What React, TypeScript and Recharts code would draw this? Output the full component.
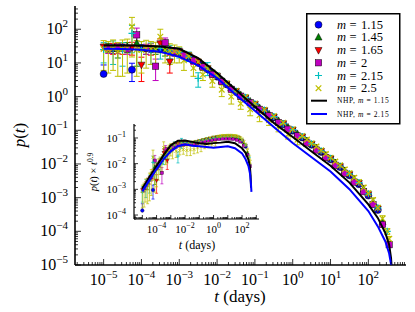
import React from "react";
import { ComposedChart, Scatter, ErrorBar, XAxis, YAxis, Legend } from "recharts";

// time bins (days); the second grid sits half a bin between the first
const tA = [1e-5, 1.78e-5, 3.16e-5, 5.62e-5, 1e-4, 1.78e-4, 3.16e-4, 5.62e-4, 1e-3, 1.78e-3, 3.16e-3, 5.62e-3, 0.01, 0.0178, 0.0316, 0.0562, 0.1, 0.178, 0.316, 0.562, 1, 1.78, 3.16, 5.62, 10, 17.8, 31.6, 56.2, 100, 178, 316];
const tB = [1.33e-5, 2.37e-5, 4.22e-5, 7.5e-5, 1.33e-4, 2.37e-4, 4.22e-4, 7.5e-4, 1.33e-3, 2.37e-3, 4.22e-3, 7.5e-3, 0.0133, 0.0237, 0.0422, 0.075, 0.133, 0.237, 0.422, 0.75, 1.33, 2.37, 4.22, 7.5, 13.3, 23.7, 42.2, 75, 133, 237, 355];
const tY = [...tA, ...tB].sort((a, b) => a - b);

const mLabels = ["1.15", "1.45", "1.65", "2", "2.15", "2.5"];
const nhpLabels = ["1.15", "2.15"];

// p(t) per series, and its error (number = symmetric, pair = [down, up])
const m115 = [4.7, 27, 29, 6.3, 28, 26, 25.5, 24, 21, 15.5, 10, 6.4, 3.9, 2.3, 1.38, 0.89, 0.57, 0.37, 0.24, 0.15, 0.097, 0.061, 0.037, 0.0228, 0.0137, 0.0081, 0.0046, 0.0025, 0.00115, 0.00043, null];
const m115Err: (number | [number, number])[] = [[0, 4], 8, 6, 3.5, 5, 5, 4, 3, 2, 1.2, 0.6, 0.3, 0.15];
const m145 = [29, 26, 30, 38, 26, 25, 24, 22, 18, 12.5, 8.2, 5.1, 3.0, 1.8, 1.12, 0.72, 0.46, 0.3, 0.19, 0.122, 0.078, 0.048, 0.029, 0.0178, 0.0106, 0.0062, 0.0034, 0.00175, 0.00072, 0.00019, null];
const m145Err = [9, 12, 10, 30, 8, 7, 8, 6, 4, 3, 2, 1, 0.5, 0.2];
const m165 = [30, 28, 27, 29, 8.8, 27, 38, 11, 22, 16.5, 10.8, 6.9, 4.1, 2.4, 1.45, 0.94, 0.6, 0.39, 0.25, 0.16, 0.103, 0.065, 0.039, 0.024, 0.0145, 0.0085, 0.0049, 0.0027, 0.00125, 0.00047, null];
const m165Err = [6, 10, 9, 12, 6, 10, 14, 6, 5, 4, 2, 1, 0.5, 0.2];
const m2 = [27, 29, 26, 68, 27, 8, 40, 22, 17, 12, 7.6, 4.6, 2.8, 1.65, 1.03, 0.66, 0.42, 0.27, 0.17, 0.108, 0.068, 0.042, 0.026, 0.0155, 0.0092, 0.0053, 0.0029, 0.0015, 0.00062, 0.00016, 0.00004];
const m2Err = [8, 10, 8, 40, 9, 5, 15, 6, 4, 3, 1.5, 0.8, 0.3];
const m215 = [25, 27, 24, 75, 26, 24, 27, 23, 21, 16, 3.5, 7.2, 4.2, 2.45, 1.47, 0.95, 0.61, 0.4, 0.255, 0.16, 0.104, 0.065, 0.04, 0.0245, 0.0148, 0.0087, 0.0051, 0.0028, 0.0013, 0.0005, 0.0001];
const m215Err = [15, 18, 16, 55, 17, 15, 14, 10, 7, 5, 1.6, 3, 0.8, 0.3, 0.1];
const m25 = [26, 24, 27, 22, 26, 28, 120, 25, 24, 27, 26, 25, 60, 24, 23, 22, 20, 12, 16, 7, 10.8, 4.5, 6.9, 2.9, 4.2, 1.6, 2.5, 1.0, 1.5, 0.62, 0.97, 0.42, 0.63, 0.28, 0.41, 0.2, 0.265, 0.13, 0.168, 0.075, 0.108, 0.052, 0.068, 0.053, 0.041, 0.033, 0.0255, 0.0198, 0.0154, 0.0118, 0.0091, 0.0069, 0.0053, 0.0039, 0.0029, 0.002, 0.00135, 0.00085, 0.0005, 0.00024, 0.0001, 0.00006];
const m25Err = [20, 19, 21, 18, 22, 23, 105, 21, 19, 20, 17, 16, 40, 14, 14, 12, 10, 6, 4, 3, 2, 1.5, 1, 1.0, 0.6, 0.6, 0.3, 0.4, 0.2, 0.2, 0.1, 0.15, 0.06, 0.1, 0.04, 0.06, 0.025, 0.04, 0.015, 0.02, 0.01, 0.015, 0.006, 0.006, 0.005, 0.004, 0.003, 0.0025, 0.002, 0.0016, 0.0013, 0.001, 0.0008, 0.0006, 0.00045, 0.00032, 0.00022, 0.00014, 0.00009, 0.00005, 0.00002, 0.00001];

// NHP model curves
const tNhp115 = [1e-5, 3.16e-5, 1e-4, 3.16e-4, 1e-3, 3.16e-3, 0.01, 0.0316, 0.1, 0.316, 1, 3.16, 10, 31.6, 100, 178, 282, 355, 398, 427];
const nhp115 = [33, 33, 32.4, 30.9, 26.3, 14, 5.0, 1.58, 0.5, 0.166, 0.063, 0.0234, 0.0089, 0.0028, 0.00063, 0.00025, 0.000089, 0.00004, 0.000016, 0.000005];
const tNhp215 = [1e-5, 3.16e-5, 1e-4, 3.16e-4, 1e-3, 3.16e-3, 0.01, 0.0316, 0.1, 0.316, 1, 3.16, 10, 31.6, 100, 178, 282, 355, 417, 457];
const nhp215 = [26.3, 25.7, 24.5, 21.4, 15.1, 8.5, 3.55, 1.12, 0.38, 0.126, 0.042, 0.0158, 0.006, 0.00178, 0.0004, 0.00014, 0.00005, 0.000022, 0.0000079, 0.0000032];

// axis labels (decade exponents)
const mainXLabels = [-5, -4, -3, -2, -1, 0, 1, 2];
const mainYLabels = [-5, -4, -3, -2, -1, 0, 1, 2];
const insetXLabels = [-4, -2, 0, 2];
const insetYLabels = [-4, -3, -2, -1];

const FONT = "'Liberation Serif', 'DejaVu Serif', serif";

type Err = number | [number, number];
type Pt = { t: number; p: number; e: Err };

function points(ts: number[], ps: (number | null)[], es: Err[]): Pt[] {
  const out: Pt[] = [];
  ts.forEach((t, i) => {
    const p = ps[i];
    if (p != null) out.push({ t, p, e: es[i] ?? 0 });
  });
  return out;
}

// inset shows p(t) * t^0.9
function inset(pts: Pt[]): Pt[] {
  return pts.map((d) => {
    const f = Math.pow(d.t, 0.9);
    const e: Err = Array.isArray(d.e) ? [d.e[0] * f, d.e[1] * f] : d.e * f;
    return { t: d.t, p: d.p * f, e };
  });
}

const SERIES = [
  { kind: "o", color: "#0000ff", data: points(tA, m115, m115Err) },
  { kind: "^", color: "#008000", data: points(tB, m145, m145Err) },
  { kind: "v", color: "#ff0000", data: points(tA, m165, m165Err) },
  { kind: "s", color: "#bf00bf", data: points(tB, m2, m2Err) },
  { kind: "+", color: "#00bfbf", data: points(tA, m215, m215Err) },
  { kind: "x", color: "#bfbf00", data: points(tY, m25, m25Err) },
];
const LINES = [
  { color: "#000000", data: points(tNhp115, nhp115, []) },
  { color: "#0000ff", data: points(tNhp215, nhp215, []) },
];

function Marker({ kind, color, cx, cy, s }: { kind: string; color: string; cx: number; cy: number; s: number }) {
  const h = s / 2;
  const ew = s > 5 ? 0.5 : 0.3;
  switch (kind) {
    case "o":
      return <circle cx={cx} cy={cy} r={h} fill={color} stroke="#000" strokeWidth={ew} />;
    case "^":
      return <polygon points={`${cx},${cy - h * 1.15} ${cx - h},${cy + h * 0.75} ${cx + h},${cy + h * 0.75}`} fill={color} stroke="#000" strokeWidth={ew} />;
    case "v":
      return <polygon points={`${cx},${cy + h * 1.15} ${cx - h},${cy - h * 0.75} ${cx + h},${cy - h * 0.75}`} fill={color} stroke="#000" strokeWidth={ew} />;
    case "s":
      return <rect x={cx - h * 0.9} y={cy - h * 0.9} width={h * 1.8} height={h * 1.8} fill={color} stroke="#000" strokeWidth={ew} />;
    case "+":
      return <path d={`M${cx - h},${cy}H${cx + h}M${cx},${cy - h}V${cy + h}`} stroke={color} strokeWidth={s > 5 ? 1.2 : 0.8} />;
    default:
      return <path d={`M${cx - h * 0.8},${cy - h * 0.8}L${cx + h * 0.8},${cy + h * 0.8}M${cx - h * 0.8},${cy + h * 0.8}L${cx + h * 0.8},${cy - h * 0.8}`} stroke={color} strokeWidth={s > 5 ? 1.2 : 0.8} />;
  }
}

function logTicks(lo: number, hi: number) {
  const out: number[] = [];
  for (let e = Math.floor(Math.log10(lo)); e <= Math.ceil(Math.log10(hi)); e++) {
    for (let k = 1; k < 10; k++) {
      const v = k * Math.pow(10, e);
      if (v >= lo && v <= hi) out.push(v);
    }
  }
  return out;
}

const expText = (e: number) => (e < 0 ? "\u2212" + Math.abs(e) : String(e));

type TickCfg = {
  side: "bottom" | "top" | "left" | "right";
  major: number;
  minor: number;
  labels?: number[];
  fs?: number;
  sfs?: number;
  off?: number;
  base?: number;
  raise?: number;
};

function makeTick(c: TickCfg) {
  return (props: any) => {
    const { x, y, payload } = props;
    const lg = Math.log10(payload.value);
    const e = Math.round(lg);
    const major = Math.abs(lg - e) < 1e-9;
    const len = major ? c.major : c.minor;
    let d = "";
    if (c.side === "bottom") d = `M${x},${y}V${y - len}`;
    else if (c.side === "top") d = `M${x},${y}V${y + len}`;
    else if (c.side === "left") d = `M${x},${y}H${x + len}`;
    else d = `M${x},${y}H${x - len}`;
    const show = major && c.labels && c.labels.includes(e);
    const label = !show ? null : c.side === "bottom" ? (
      <text x={x} y={y + (c.off ?? 0)} textAnchor="middle" fontFamily={FONT} fontSize={c.fs} fill="#000">
        10<tspan dy={-(c.raise ?? 0)} fontSize={c.sfs}>{expText(e)}</tspan>
      </text>
    ) : (
      <text x={x - (c.off ?? 0)} y={y + (c.base ?? 0)} textAnchor="end" fontFamily={FONT} fontSize={c.fs} fill="#000">
        10<tspan dy={-(c.raise ?? 0)} fontSize={c.sfs}>{expText(e)}</tspan>
      </text>
    );
    return (
      <g>
        <path d={d} stroke="#000" strokeWidth={0.8} fill="none" />
        {label}
      </g>
    );
  };
}

// axes ranges
const X_DOM: [number, number] = [1.75e-6, 990];
const Y_DOM: [number, number] = [1e-5, 490];
const IX_DOM: [number, number] = [2.6e-6, 1550];
const IY_DOM: [number, number] = [7e-5, 0.35];

function LegendBox() {
  return (
    <svg width={95} height={112} style={{ display: "block" }}>
      <rect x={0.75} y={0.75} width={93} height={110} fill="#fff" stroke="#000" strokeWidth={1.5} />
      {SERIES.map((s, i) => {
        const cy = 11.7 + i * 12.7;
        return (
          <g key={i}>
            <Marker kind={s.kind} color={s.color} cx={12.5} cy={cy} s={7} />
            <text x={31} y={cy + 4} fontFamily={FONT} fontSize={12.5} fontStyle="italic" fill="#000">m</text>
            <text x={43.5} y={cy + 4} fontFamily={FONT} fontSize={12.5} fill="#000">=</text>
            <text x={55} y={cy + 4} fontFamily={FONT} fontSize={12.5} fill="#000">{mLabels[i]}</text>
          </g>
        );
      })}
      {LINES.map((l, i) => {
        const cy = 87.7 + i * 13.3;
        return (
          <g key={"l" + i}>
            <path d={`M5,${cy}H21`} stroke={l.color} strokeWidth={2} />
            <text x={31} y={cy + 2.7} fontFamily={FONT} fontSize={7.5} letterSpacing={0.6} fill="#000">
              NHP, <tspan fontStyle="italic">m</tspan> = {nhpLabels[i]}
            </text>
          </g>
        );
      })}
    </svg>
  );
}

function renderSeries(small: boolean) {
  const s = small ? 3.6 : 7;
  const items: React.ReactNode[] = [];
  SERIES.forEach((ser, i) => {
    const data = small ? inset(ser.data) : ser.data;
    items.push(
      <Scatter
        key={"s" + i}
        data={data}
        dataKey="p"
        isAnimationActive={false}
        shape={(p: any) => <Marker kind={ser.kind} color={ser.color} cx={p.cx} cy={p.cy} s={s} />}
      >
        <ErrorBar dataKey="e" direction="y" width={small ? 1.5 : 3} stroke={ser.color} strokeWidth={small ? 0.7 : 1} isAnimationActive={false} />
      </Scatter>
    );
  });
  LINES.forEach((l, i) => {
    const data = small ? inset(l.data) : l.data;
    items.push(
      <Scatter
        key={"l" + i}
        data={data}
        dataKey="p"
        isAnimationActive={false}
        line={{ stroke: l.color, strokeWidth: 2 }}
        lineType="joint"
        shape={() => <g />}
      />
    );
  });
  return items;
}

export default function App() {
  const mainX = logTicks(X_DOM[0], X_DOM[1]);
  const mainY = logTicks(Y_DOM[0], Y_DOM[1]);
  const inX = logTicks(IX_DOM[0], IX_DOM[1]);
  const inY = logTicks(IY_DOM[0], IY_DOM[1]);
  const axisLine = { stroke: "#000", strokeWidth: 1.6 };
  const inLine = { stroke: "#000", strokeWidth: 1.2 };

  return (
    <div style={{ position: "absolute", left: 0, top: 0, width: 415, height: 312, background: "#fff" }}>
      <ComposedChart width={415} height={312} margin={{ top: 6, right: 9, bottom: 0, left: 0 }}>
        <XAxis
          dataKey="t"
          type="number"
          scale="log"
          domain={X_DOM}
          allowDataOverflow
          ticks={mainX}
          interval={0}
          tickSize={0}
          tickMargin={0}
          tickLine={false}
          axisLine={axisLine}
          height={47}
          tick={makeTick({ side: "bottom", major: 6, minor: 3, labels: mainXLabels, fs: 16, sfs: 11, off: 20, raise: 7 })}
          label={() => (
            <text x={240} y={302} textAnchor="middle" fontFamily={FONT} fontSize={17} fill="#000">
              <tspan fontStyle="italic">t</tspan> (days)
            </text>
          )}
        />
        <XAxis
          xAxisId="top"
          orientation="top"
          type="number"
          scale="log"
          domain={X_DOM}
          allowDataOverflow
          ticks={mainX}
          interval={0}
          tickSize={0}
          tickMargin={0}
          tickLine={false}
          axisLine={axisLine}
          height={0}
          tick={makeTick({ side: "top", major: 6, minor: 3 })}
        />
        <YAxis
          dataKey="p"
          type="number"
          scale="log"
          domain={Y_DOM}
          allowDataOverflow
          ticks={mainY}
          interval={0}
          tickSize={0}
          tickMargin={0}
          tickLine={false}
          axisLine={axisLine}
          width={75}
          tick={makeTick({ side: "left", major: 6, minor: 3, labels: mainYLabels, fs: 16, sfs: 11, off: 7, base: 5, raise: 7 })}
          label={() => (
            <text x={25} y={135} transform="rotate(-90 25 135)" textAnchor="middle" fontFamily={FONT} fontSize={17} fill="#000">
              <tspan fontStyle="italic">p</tspan>(<tspan fontStyle="italic">t</tspan>)
            </text>
          )}
        />
        <YAxis
          yAxisId="right"
          orientation="right"
          type="number"
          scale="log"
          domain={Y_DOM}
          allowDataOverflow
          ticks={mainY}
          interval={0}
          tickSize={0}
          tickMargin={0}
          tickLine={false}
          axisLine={axisLine}
          width={0}
          tick={makeTick({ side: "right", major: 6, minor: 3 })}
        />
        {renderSeries(false)}
        <Legend
          layout="vertical"
          align="center"
          verticalAlign="middle"
          content={() => <LegendBox />}
          wrapperStyle={{ left: 306, top: 13, width: 95, height: 112 }}
        />
      </ComposedChart>

      <div style={{ position: "absolute", left: 84, top: 124, width: 177, height: 130, background: "#fff" }}>
        <ComposedChart width={177} height={130} margin={{ top: 0, right: 2, bottom: 0, left: 0 }}>
          <XAxis
            dataKey="t"
            type="number"
            scale="log"
            domain={IX_DOM}
            allowDataOverflow
            ticks={inX}
            interval={0}
            tickSize={0}
            tickMargin={0}
            tickLine={false}
            axisLine={inLine}
            height={35}
            tick={makeTick({ side: "bottom", major: 4, minor: 2, labels: insetXLabels, fs: 11, sfs: 8, off: 14, raise: 5 })}
            label={() => (
              <text x={113} y={125} textAnchor="middle" fontFamily={FONT} fontSize={12} fill="#000">
                <tspan fontStyle="italic">t</tspan> (days)
              </text>
            )}
          />
          <XAxis
            xAxisId="top"
            orientation="top"
            type="number"
            scale="log"
            domain={IX_DOM}
            allowDataOverflow
            ticks={inX}
            interval={0}
            tickSize={0}
            tickMargin={0}
            tickLine={false}
            axisLine={inLine}
            height={0}
            tick={makeTick({ side: "top", major: 4, minor: 2 })}
          />
          <YAxis
            dataKey="p"
            type="number"
            scale="log"
            domain={IY_DOM}
            allowDataOverflow
            ticks={inY}
            interval={0}
            tickSize={0}
            tickMargin={0}
            tickLine={false}
            axisLine={inLine}
            width={50}
            tick={makeTick({ side: "left", major: 4, minor: 2, labels: insetYLabels, fs: 11, sfs: 8, off: 8, base: 4, raise: 5 })}
            label={() => (
              <text x={13} y={48} transform="rotate(-90 13 48)" textAnchor="middle" fontFamily={FONT} fontSize={10.5} fill="#000">
                <tspan fontStyle="italic">p</tspan>(<tspan fontStyle="italic">t</tspan>) × <tspan fontStyle="italic">t</tspan>
                <tspan dy={-4} fontSize={7.5}>0.9</tspan>
              </text>
            )}
          />
          <YAxis
            yAxisId="right"
            orientation="right"
            type="number"
            scale="log"
            domain={IY_DOM}
            allowDataOverflow
            ticks={inY}
            interval={0}
            tickSize={0}
            tickMargin={0}
            tickLine={false}
            axisLine={inLine}
            width={0}
            tick={makeTick({ side: "right", major: 4, minor: 2 })}
          />
          {renderSeries(true)}
        </ComposedChart>
      </div>
    </div>
  );
}
